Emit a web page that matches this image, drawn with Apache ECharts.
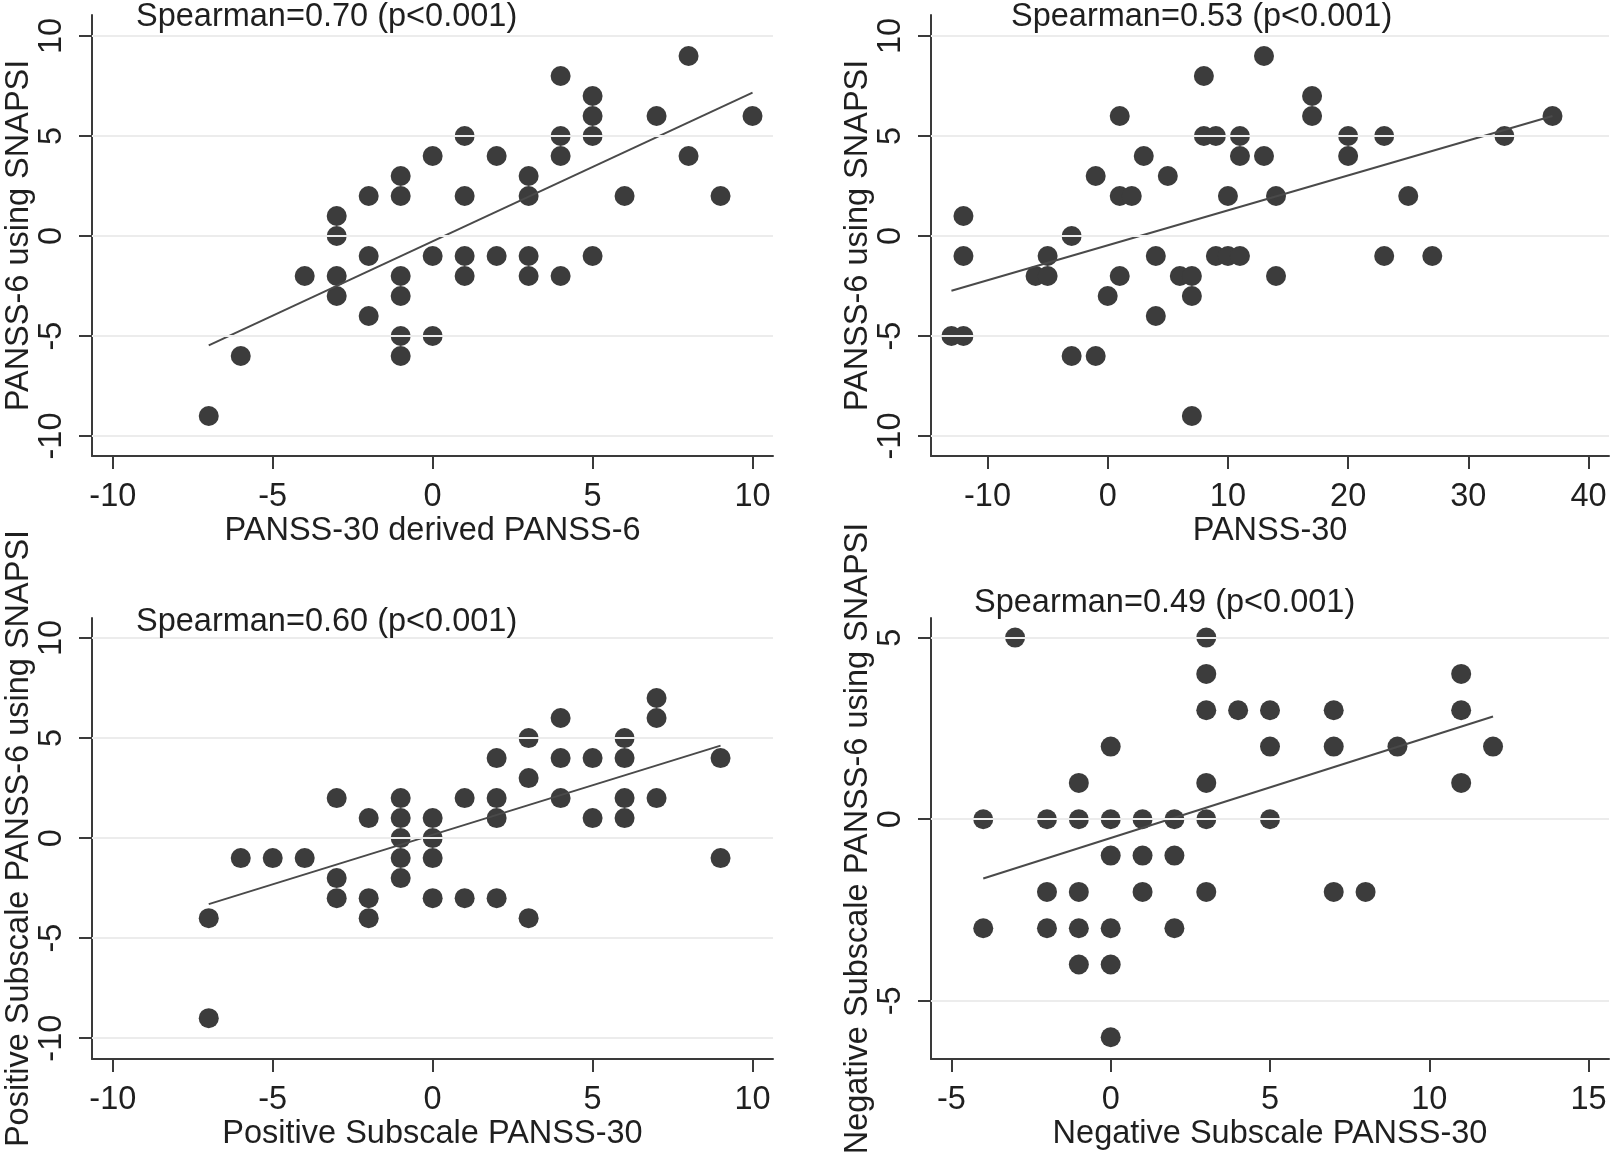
<!DOCTYPE html>
<html>
<head>
<meta charset="utf-8">
<title>PANSS-6 using SNAPSI correlations</title>
<script src="https://cdn.jsdelivr.net/npm/echarts@6.0.0/dist/echarts.min.js"></script>
<style>
  html, body { margin: 0; padding: 0; background: #fff; }
  #chart { width: 1615px; height: 1159px; }
</style>
</head>
<body>
<div id="chart"></div>
<script>
// top left: PANSS-30 derived PANSS-6
const derivedPoints = [
  [-7, -9], [-6, -6], [-4, -2],
  [-3, 1], [-3, 0], [-3, -2], [-3, -3],
  [-2, 2], [-2, -1], [-2, -4],
  [-1, 3], [-1, 2], [-1, -2], [-1, -3], [-1, -5], [-1, -6],
  [0, 4], [0, -1], [0, -5],
  [1, 5], [1, 2], [1, -1], [1, -2],
  [2, 4], [2, -1],
  [3, 3], [3, 2], [3, -1], [3, -2],
  [4, 8], [4, 5], [4, 4], [4, -2],
  [5, 7], [5, 6], [5, 5], [5, -1],
  [6, 2], [7, 6], [8, 9], [8, 4], [9, 2], [10, 6]
];
const derivedFit = [[-7, -5.47], [10, 7.17]];

// top right: PANSS-30 total
const totalPoints = [
  [-13, -5], [-12, -5], [-12, -1], [-12, 1],
  [-6, -2], [-5, -2], [-5, -1], [-3, 0], [-3, -6],
  [-1, 3], [-1, -6], [0, -3],
  [1, 6], [1, 2], [1, -2], [2, 2], [3, 4],
  [4, -1], [4, -4], [5, 3], [6, -2],
  [7, -2], [7, -3], [7, -9],
  [8, 8], [8, 5], [9, 5], [9, -1],
  [10, 2], [10, -1], [11, 5], [11, 4], [11, -1],
  [13, 9], [13, 4], [14, 2], [14, -2],
  [17, 7], [17, 6], [20, 5], [20, 4],
  [23, 5], [23, -1], [25, 2], [27, -1], [33, 5], [37, 6]
];
const totalFit = [[-13, -2.74], [37, 6.0]];

// bottom left: positive subscale
const positivePoints = [
  [-7, -4], [-7, -9], [-6, -1], [-5, -1], [-4, -1],
  [-3, 2], [-3, -2], [-3, -3],
  [-2, 1], [-2, -3], [-2, -4],
  [-1, 2], [-1, 1], [-1, 0], [-1, -1], [-1, -2],
  [0, 1], [0, 0], [0, -1], [0, -3],
  [1, 2], [1, -3],
  [2, 4], [2, 2], [2, 1], [2, -3],
  [3, 5], [3, 3], [3, -4],
  [4, 6], [4, 4], [4, 2],
  [5, 4], [5, 1],
  [6, 5], [6, 4], [6, 2], [6, 1],
  [7, 7], [7, 6], [7, 2],
  [9, 4], [9, -1]
];
const positiveFit = [[-7, -3.3], [9, 4.62]];

// bottom right: negative subscale
const negativePoints = [
  [-4, 0], [-4, -3], [-3, 5],
  [-2, 0], [-2, -2], [-2, -3],
  [-1, 1], [-1, 0], [-1, -2], [-1, -3], [-1, -4],
  [0, 2], [0, 0], [0, -1], [0, -3], [0, -4], [0, -6],
  [1, 0], [1, -1], [1, -2],
  [2, 0], [2, -1], [2, -3],
  [3, 5], [3, 4], [3, 3], [3, 1], [3, 0], [3, -2],
  [4, 3], [5, 3], [5, 2], [5, 0],
  [7, 3], [7, 2], [7, -2], [8, -2], [9, 2],
  [11, 4], [11, 3], [11, 1], [12, 2]
];
const negativeFit = [[-4, -1.63], [12, 2.83]];

const spearmanLabels = [
  'Spearman=0.70 (p<0.001)',
  'Spearman=0.53 (p<0.001)',
  'Spearman=0.60 (p<0.001)',
  'Spearman=0.49 (p<0.001)'
];
const xTitles = [
  'PANSS-30 derived PANSS-6',
  'PANSS-30',
  'Positive Subscale PANSS-30',
  'Negative Subscale PANSS-30'
];
const yTitles = [
  'PANSS-6 using SNAPSI',
  'PANSS-6 using SNAPSI',
  'Positive Subscale PANSS-6 using SNAPSI',
  'Negative Subscale PANSS-6 using SNAPSI'
];
const xTicks = [
  [-10, -5, 0, 5, 10],
  [-10, 0, 10, 20, 30, 40],
  [-10, -5, 0, 5, 10],
  [-5, 0, 5, 10, 15]
];
const yTicks = [
  [-10, -5, 0, 5, 10],
  [-10, -5, 0, 5, 10],
  [-10, -5, 0, 5, 10],
  [-5, 0, 5]
];

const allPoints = [derivedPoints, totalPoints, positivePoints, negativePoints];
const allFits = [derivedFit, totalFit, positiveFit, negativeFit];

// layout of the four panels (Stata pads the axes past the outer ticks)
const panels = [
  { left: 92, top: 15, width: 681, height: 441, x: [-10.65, 10.64], y: [-11.0, 11.05], tl: 136, tt: 1 },
  { left: 931, top: 15, width: 678, height: 441, x: [-14.7, 41.7], y: [-11.0, 11.05], tl: 1011, tt: 1 },
  { left: 92, top: 618, width: 681, height: 441, x: [-10.65, 10.64], y: [-11.04, 11.0], tl: 136, tt: 606 },
  { left: 931, top: 618, width: 678, height: 441, x: [-5.64, 15.64], y: [-6.6, 5.54], tl: 974, tt: 587 }
];

const FONT = "'Liberation Sans', Arial, sans-serif";
const TEXT = '#1f1f1f';
const AXIS = '#3a3a3a';
const FS = 32.5;

const chart = echarts.init(document.getElementById('chart'));

const grid = [], xAxis = [], yAxis = [], title = [], series = [];

panels.forEach((p, i) => {
  grid.push({ left: p.left, top: p.top, width: p.width, height: p.height, outerBoundsMode: 'none' });
  title.push({
    text: spearmanLabels[i], left: p.tl, top: p.tt, padding: 0,
    textStyle: { fontFamily: FONT, fontSize: FS, fontWeight: 'normal', color: TEXT }
  });
  xAxis.push({
    type: 'value', gridIndex: i, min: p.x[0], max: p.x[1],
    axisLine: { onZero: false, lineStyle: { color: AXIS, width: 2 } },
    axisTick: { length: 13, customValues: xTicks[i], lineStyle: { color: AXIS, width: 2 } },
    axisLabel: { customValues: xTicks[i], margin: 25, fontFamily: FONT, fontSize: FS, color: TEXT },
    splitLine: { show: false },
    name: xTitles[i], nameLocation: 'middle', nameGap: 56,
    nameTextStyle: { fontFamily: FONT, fontSize: FS, color: TEXT }
  });
  yAxis.push({
    type: 'value', gridIndex: i, min: p.y[0], max: p.y[1],
    axisLine: { show: true, onZero: false, lineStyle: { color: AXIS, width: 2 } },
    axisTick: { show: true, length: 13, customValues: yTicks[i], lineStyle: { color: AXIS, width: 2 } },
    axisLabel: { customValues: yTicks[i], rotate: 90, margin: 23, fontFamily: FONT, fontSize: FS, color: TEXT },
    splitLine: { show: false },
    name: yTitles[i], nameLocation: 'middle', nameGap: 55, nameRotate: 90,
    nameTextStyle: { fontFamily: FONT, fontSize: FS, color: TEXT }
  });
  // light horizontal grid lines at the y ticks
  series.push({
    type: 'line', xAxisIndex: i, yAxisIndex: i, data: [], z: 1, silent: true,
    markLine: {
      silent: true, symbol: 'none', animation: false,
      label: { show: false },
      lineStyle: { color: '#ececec', width: 2, type: 'solid' },
      emphasis: { disabled: true },
      data: yTicks[i].map(v => ({ yAxis: v }))
    }
  });
  series.push({
    type: 'scatter', xAxisIndex: i, yAxisIndex: i, data: allPoints[i], z: 3,
    symbol: 'circle', symbolSize: 20,
    itemStyle: { color: '#3c3c3c', opacity: 1 },
    emphasis: { disabled: true }
  });
  series.push({
    type: 'line', xAxisIndex: i, yAxisIndex: i, data: allFits[i], z: 4,
    symbol: 'none', silent: true,
    lineStyle: { color: '#4a4a4a', width: 2 },
    emphasis: { disabled: true }
  });
});

chart.setOption({
  backgroundColor: '#ffffff',
  animation: false,
  title: title,
  grid: grid,
  xAxis: xAxis,
  yAxis: yAxis,
  series: series
});
</script>
</body>
</html>
